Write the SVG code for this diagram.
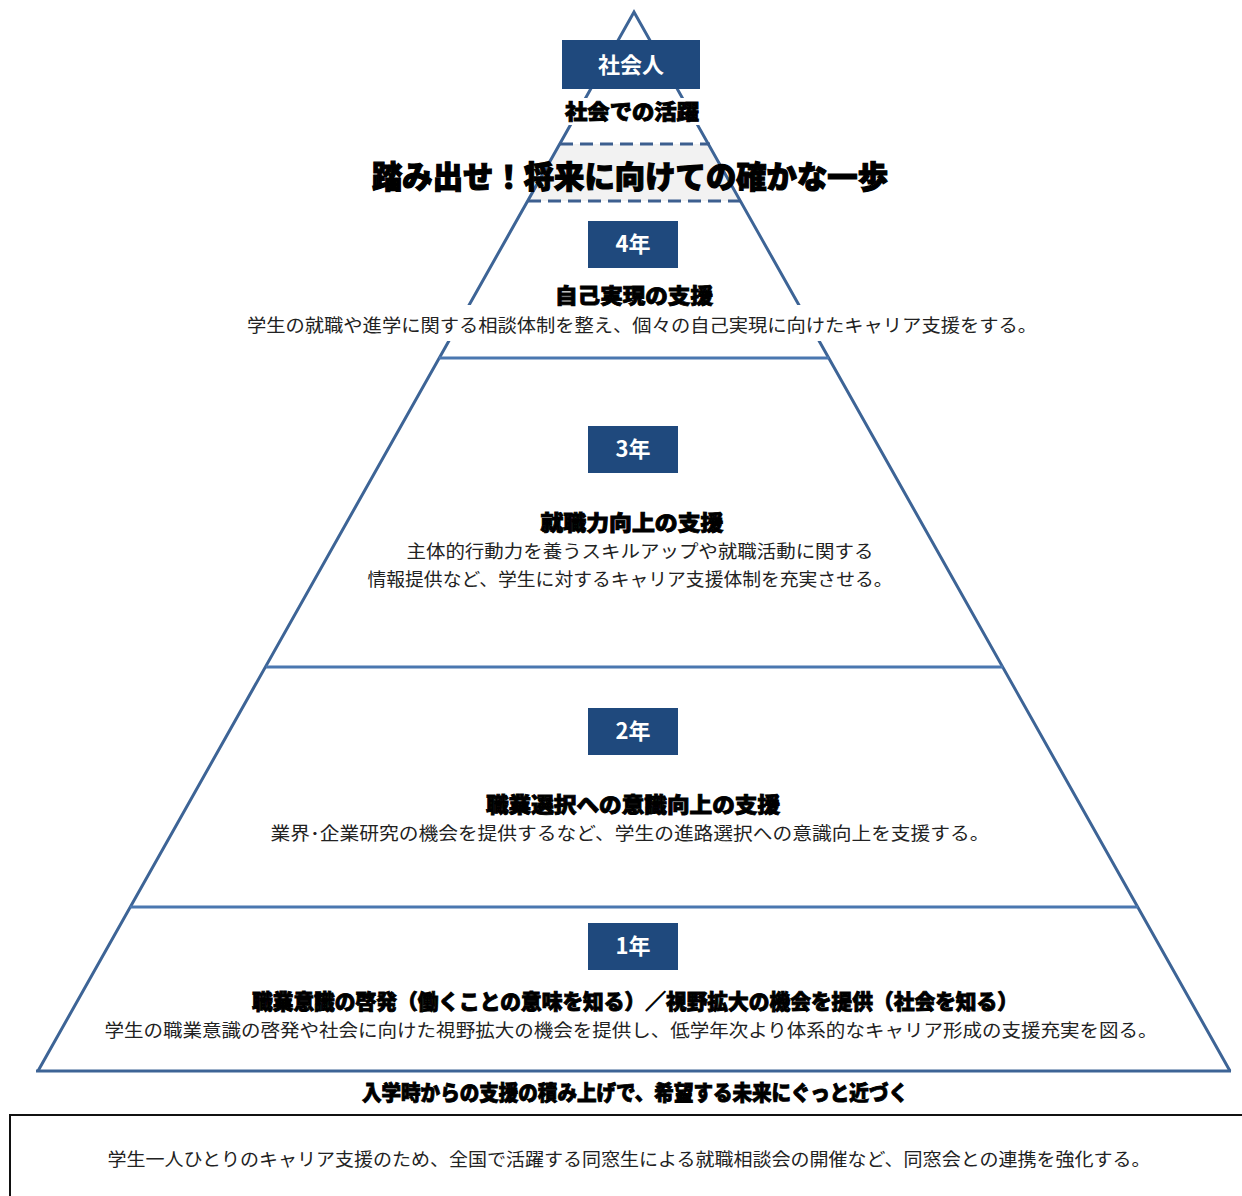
<svg xmlns="http://www.w3.org/2000/svg" width="1242" height="1196" viewBox="0 0 1242 1196">
<style>
.side{stroke:#3d6496;stroke-width:3;fill:none}
.hl{stroke:#4a77b0;stroke-width:3;fill:none}
.dash{stroke:#3d5f8f;stroke-width:3;stroke-dasharray:13 7;fill:none}
.yb{fill:#1f497d}
.yt{font-family:"Noto Sans CJK JP","Noto Sans",sans-serif;font-weight:700;font-size:22px;fill:#ffffff;text-anchor:middle}
.hd{font-family:"Noto Sans CJK JP","Noto Sans",sans-serif;font-weight:900;font-size:21px;fill:#000;stroke:#000;stroke-width:0.9;text-anchor:middle}
.ds{font-family:"Noto Sans CJK JP","Noto Sans",sans-serif;font-weight:400;font-size:18px;fill:#222;text-anchor:middle}
</style>
<rect width="1242" height="1196" fill="#ffffff"/>
<g id="connectors">
<polygon points="560,144 710,144 741,201 528,201" fill="#f2f2f2"/>
<polyline class="side" points="38,1071 634,12 1230,1071"/>
<line class="side" x1="36" y1="1071" x2="1231" y2="1071"/>
<line class="hl" x1="439" y1="358" x2="829" y2="358"/>
<line class="hl" x1="266" y1="667" x2="1003" y2="667"/>
<line class="hl" x1="130" y1="907" x2="1138" y2="907"/>
<line class="dash" x1="560" y1="144" x2="710" y2="144"/>
<line class="dash" x1="528" y1="201" x2="741" y2="201"/>
</g>
<g id="node-shakaijin">
<rect class="yb" x="562" y="40" width="138" height="49"/>
<text class="yt" x="631" y="73">社会人</text>
<rect x="563" y="98" width="140" height="27" fill="#ffffff"/>
<text class="hd" x="632" y="119" textLength="134" lengthAdjust="spacingAndGlyphs">社会での活躍</text>
</g>
<g id="node-slogan">
<text x="630" y="188" font-family="'Noto Sans CJK JP','Noto Sans',sans-serif" font-weight="900" font-size="31" fill="#000" stroke="#000" stroke-width="1.2" text-anchor="middle" textLength="516" lengthAdjust="spacingAndGlyphs">踏み出せ！将来に向けての確かな一歩</text>
</g>
<g id="node-4">
<rect class="yb" x="588" y="221" width="90" height="47"/>
<text class="yt" x="633" y="252">4年</text>
<rect x="440" y="305" width="390" height="36" fill="#ffffff"/>
<text class="hd" x="634" y="303" textLength="158" lengthAdjust="spacingAndGlyphs">自己実現の支援</text>
<text class="ds" x="642" y="332" textLength="790" lengthAdjust="spacingAndGlyphs">学生の就職や進学に関する相談体制を整え、個々の自己実現に向けたキャリア支援をする。</text>
</g>
<g id="node-3">
<rect class="yb" x="588" y="426" width="90" height="47"/>
<text class="yt" x="633" y="457">3年</text>
<text class="hd" x="632" y="530" textLength="183" lengthAdjust="spacingAndGlyphs">就職力向上の支援</text>
<text class="ds" x="640" y="558" textLength="467" lengthAdjust="spacingAndGlyphs">主体的行動力を養うスキルアップや就職活動に関する</text>
<text class="ds" x="630" y="586" textLength="525" lengthAdjust="spacingAndGlyphs">情報提供など、学生に対するキャリア支援体制を充実させる。</text>
</g>
<g id="node-2">
<rect class="yb" x="588" y="708" width="90" height="47"/>
<text class="yt" x="633" y="739">2年</text>
<text class="hd" x="633" y="812" textLength="294" lengthAdjust="spacingAndGlyphs">職業選択への意識向上の支援</text>
<text class="ds" x="630" y="840" textLength="719" lengthAdjust="spacingAndGlyphs">業界･企業研究の機会を提供するなど、学生の進路選択への意識向上を支援する。</text>
</g>
<g id="node-1">
<rect class="yb" x="588" y="923" width="90" height="47"/>
<text class="yt" x="633" y="954">1年</text>
<text class="hd" x="635" y="1009" textLength="766" lengthAdjust="spacingAndGlyphs">職業意識の啓発（働くことの意味を知る）／視野拡大の機会を提供（社会を知る）</text>
<text class="ds" x="631" y="1037" textLength="1053" lengthAdjust="spacingAndGlyphs">学生の職業意識の啓発や社会に向けた視野拡大の機会を提供し、低学年次より体系的なキャリア形成の支援充実を図る。</text>
</g>
<g id="node-summary">
<text class="hd" x="635" y="1100" font-size="19" textLength="546" lengthAdjust="spacingAndGlyphs">入学時からの支援の積み上げで、希望する未来にぐっと近づく</text>
</g>
<g id="node-alumni">
<rect x="10" y="1115" width="1240" height="90" fill="#ffffff" stroke="#111" stroke-width="2"/>
<text class="ds" x="629" y="1166" textLength="1043" lengthAdjust="spacingAndGlyphs">学生一人ひとりのキャリア支援のため、全国で活躍する同窓生による就職相談会の開催など、同窓会との連携を強化する。</text>
</g>
</svg>
